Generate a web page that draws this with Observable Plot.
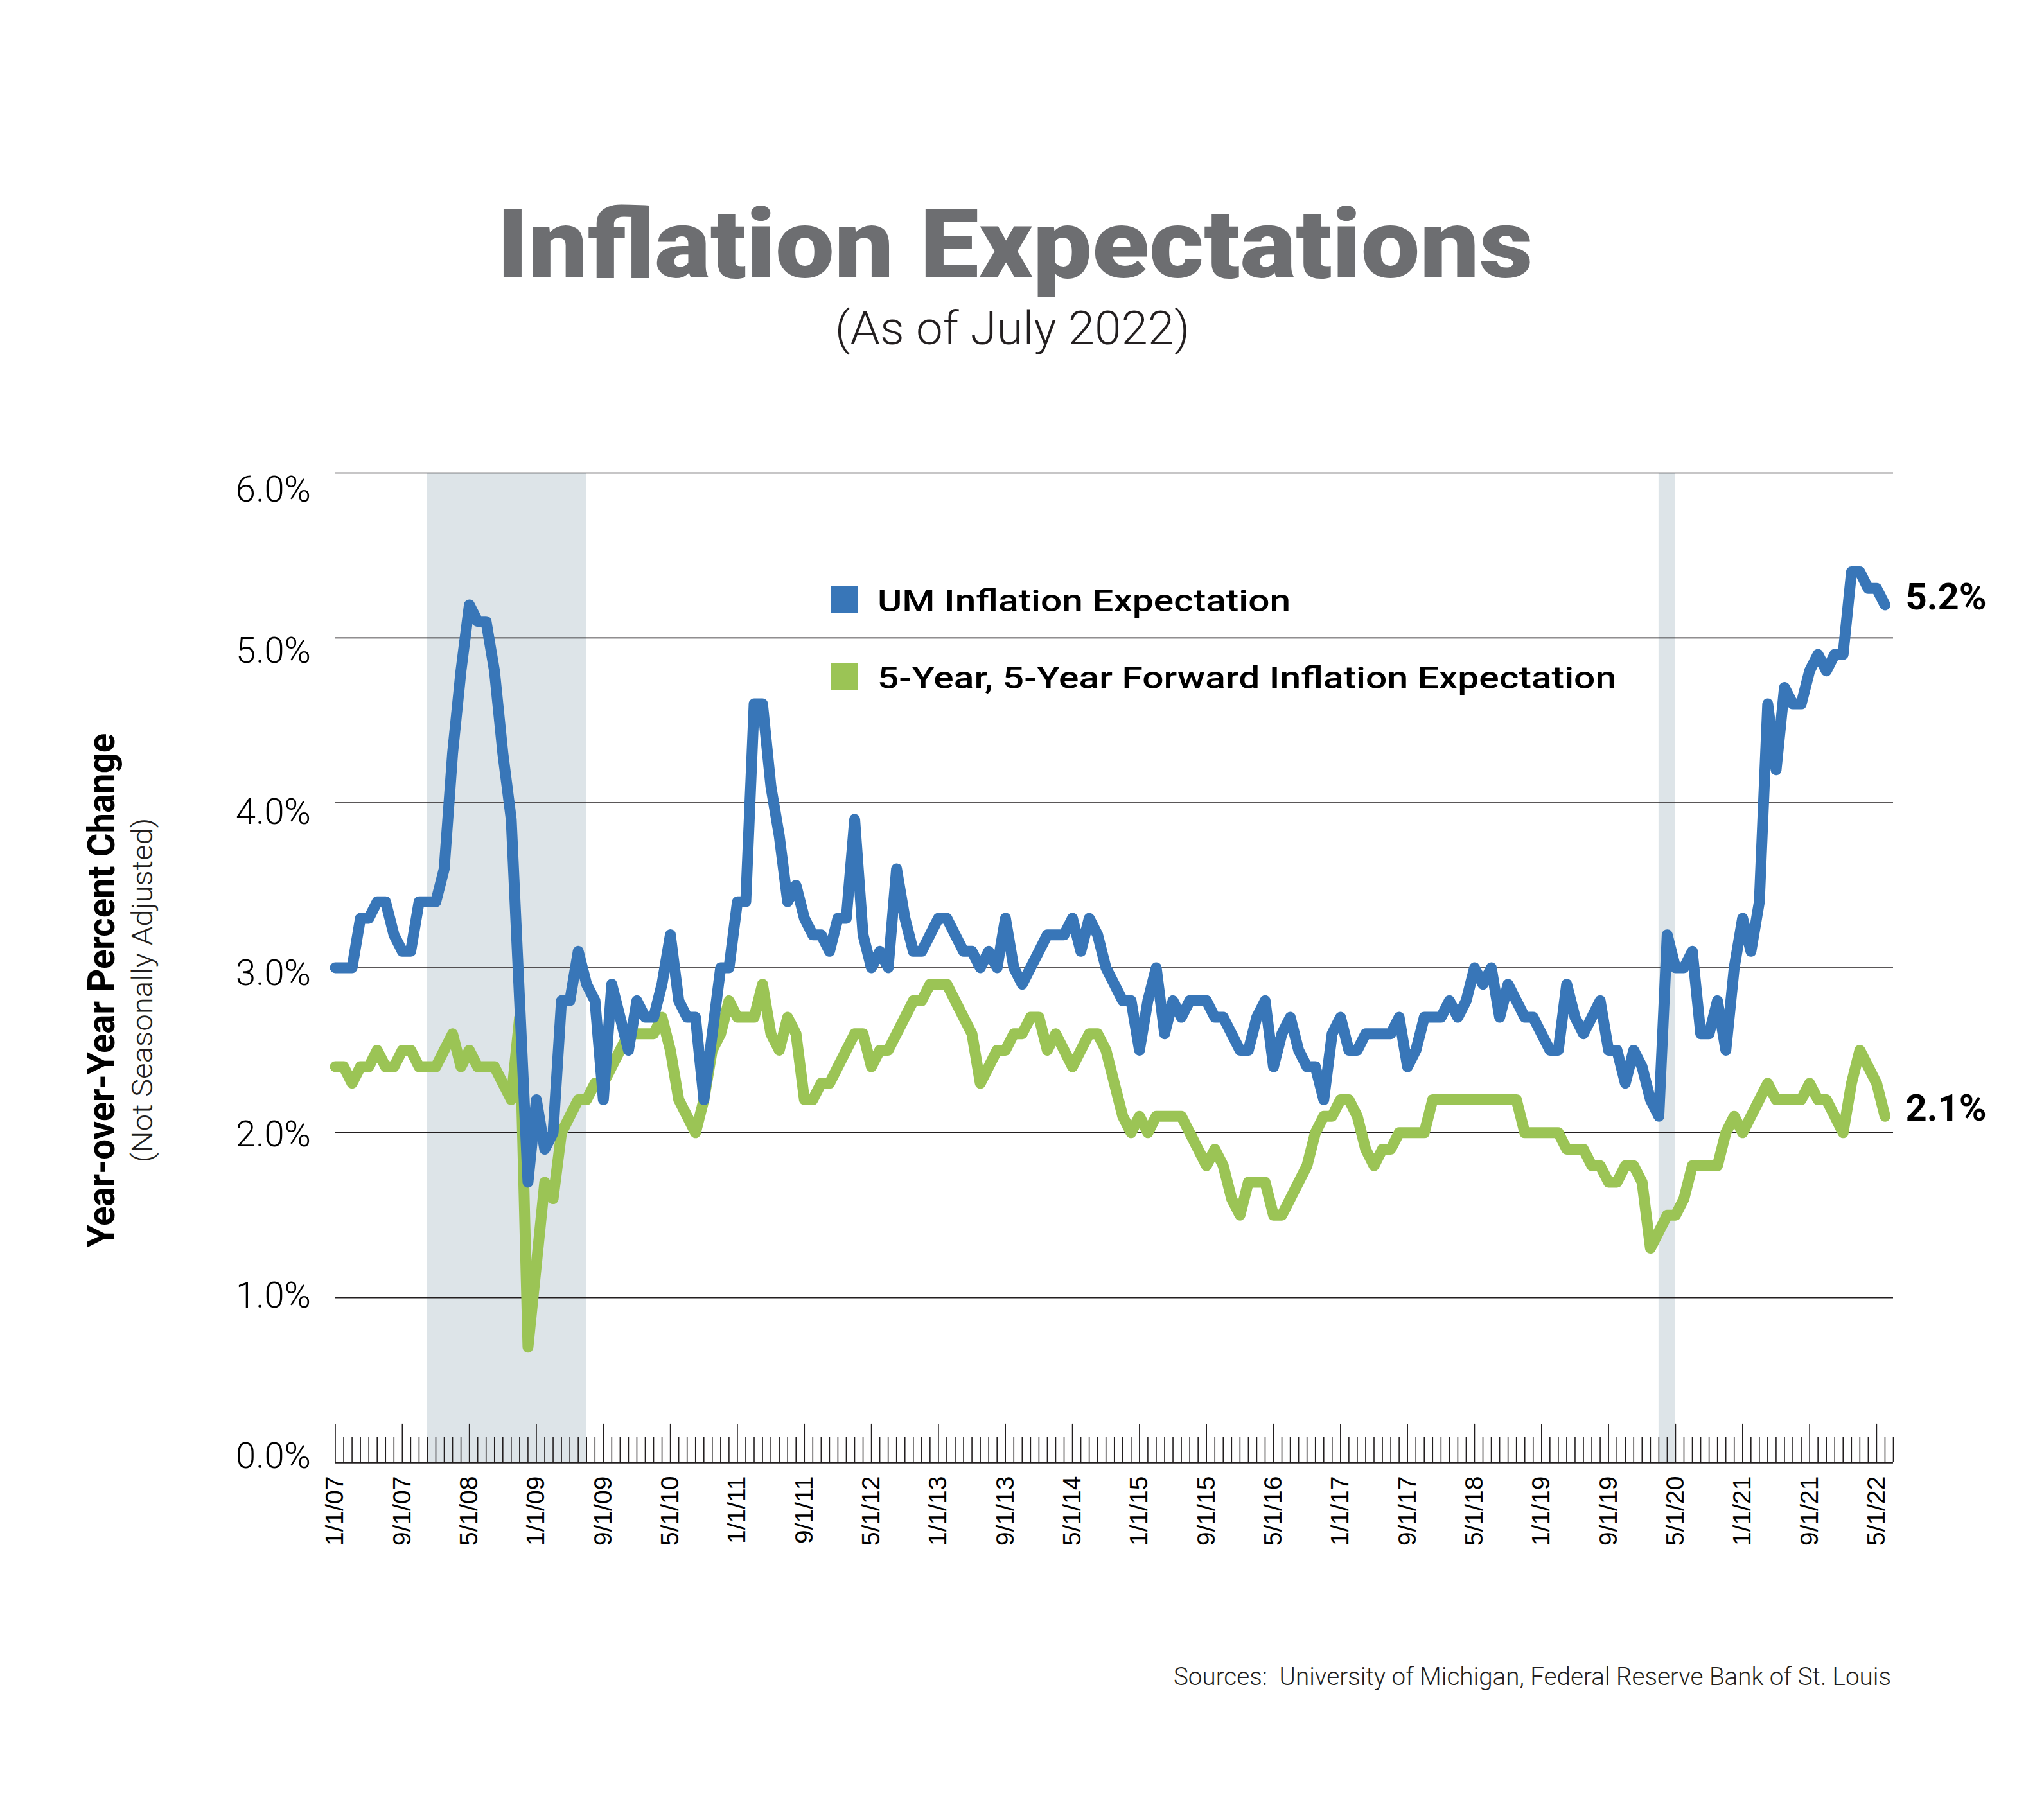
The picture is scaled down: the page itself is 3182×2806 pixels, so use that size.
<!DOCTYPE html>
<html><head><meta charset="utf-8">
<script src="https://cdn.jsdelivr.net/npm/d3@7"></script>
<script src="https://cdn.jsdelivr.net/npm/@observablehq/plot@0.6"></script>
<style>
html,body{margin:0;padding:0;background:#fff;}
#page{position:relative;width:3182px;height:2806px;overflow:hidden;font-family:Roboto,"Open Sans",sans-serif;background:#fff;}
#page svg{position:absolute;left:0;top:0;}
.t{position:absolute;white-space:nowrap;line-height:1;}
.sq{position:absolute;}
</style></head><body><div id="page"></div>
<script>
// ---- data ----
const startYear = 2007, startMonth = 1;   // first plotted month (index 0)
const axisMonths = 186;                   // axis extent in months

const umValues = [
 3.0,3.0,3.0,3.3,3.3,3.4,3.4,3.2,3.1,3.1,3.4,3.4,
 3.4,3.6,4.3,4.8,5.2,5.1,5.1,4.8,4.3,3.9,2.8,1.7,
 2.2,1.9,2.0,2.8,2.8,3.1,2.9,2.8,2.2,2.9,2.7,2.5,
 2.8,2.7,2.7,2.9,3.2,2.8,2.7,2.7,2.2,2.6,3.0,3.0,
 3.4,3.4,4.6,4.6,4.1,3.8,3.4,3.5,3.3,3.2,3.2,3.1,
 3.3,3.3,3.9,3.2,3.0,3.1,3.0,3.6,3.3,3.1,3.1,3.2,
 3.3,3.3,3.2,3.1,3.1,3.0,3.1,3.0,3.3,3.0,2.9,3.0,
 3.1,3.2,3.2,3.2,3.3,3.1,3.3,3.2,3.0,2.9,2.8,2.8,
 2.5,2.8,3.0,2.6,2.8,2.7,2.8,2.8,2.8,2.7,2.7,2.6,
 2.5,2.5,2.7,2.8,2.4,2.6,2.7,2.5,2.4,2.4,2.2,2.6,
 2.7,2.5,2.5,2.6,2.6,2.6,2.6,2.7,2.4,2.5,2.7,2.7,
 2.7,2.8,2.7,2.8,3.0,2.9,3.0,2.7,2.9,2.8,2.7,2.7,
 2.6,2.5,2.5,2.9,2.7,2.6,2.7,2.8,2.5,2.5,2.3,2.5,
 2.4,2.2,2.1,3.2,3.0,3.0,3.1,2.6,2.6,2.8,2.5,3.0,
 3.3,3.1,3.4,4.6,4.2,4.7,4.6,4.6,4.8,4.9,4.8,4.9,
 4.9,5.4,5.4,5.3,5.3,5.2
];

const fwdValues = [
 2.4,2.4,2.3,2.4,2.4,2.5,2.4,2.4,2.5,2.5,2.4,2.4,
 2.4,2.5,2.6,2.4,2.5,2.4,2.4,2.4,2.3,2.2,2.7,0.7,
 1.2,1.7,1.6,2.0,2.1,2.2,2.2,2.3,2.3,2.4,2.5,2.6,
 2.6,2.6,2.6,2.7,2.5,2.2,2.1,2.0,2.2,2.5,2.6,2.8,
 2.7,2.7,2.7,2.9,2.6,2.5,2.7,2.6,2.2,2.2,2.3,2.3,
 2.4,2.5,2.6,2.6,2.4,2.5,2.5,2.6,2.7,2.8,2.8,2.9,
 2.9,2.9,2.8,2.7,2.6,2.3,2.4,2.5,2.5,2.6,2.6,2.7,
 2.7,2.5,2.6,2.5,2.4,2.5,2.6,2.6,2.5,2.3,2.1,2.0,
 2.1,2.0,2.1,2.1,2.1,2.1,2.0,1.9,1.8,1.9,1.8,1.6,
 1.5,1.7,1.7,1.7,1.5,1.5,1.6,1.7,1.8,2.0,2.1,2.1,
 2.2,2.2,2.1,1.9,1.8,1.9,1.9,2.0,2.0,2.0,2.0,2.2,
 2.2,2.2,2.2,2.2,2.2,2.2,2.2,2.2,2.2,2.2,2.0,2.0,
 2.0,2.0,2.0,1.9,1.9,1.9,1.8,1.8,1.7,1.7,1.8,1.8,
 1.7,1.3,1.4,1.5,1.5,1.6,1.8,1.8,1.8,1.8,2.0,2.1,
 2.0,2.1,2.2,2.3,2.2,2.2,2.2,2.2,2.3,2.2,2.2,2.1,
 2.0,2.3,2.5,2.4,2.3,2.1
];

const tickLabels = ["1/1/07","9/1/07","5/1/08","1/1/09","9/1/09","5/1/10","1/1/11","9/1/11",
  "5/1/12","1/1/13","9/1/13","5/1/14","1/1/15","9/1/15","5/1/16","1/1/17","9/1/17","5/1/18",
  "1/1/19","9/1/19","5/1/20","1/1/21","9/1/21","5/1/22"];
const yTicks = [0,1,2,3,4,5,6];
const recessions = [{start:"2007-12", end:"2009-07"}, {start:"2020-03", end:"2020-05"}];
const seriesNames = ["UM Inflation Expectation", "5-Year, 5-Year Forward Inflation Expectation"];
const seriesColors = ["#3876b8", "#9bc455"];
const titleText = "Inflation Expectations";
const subtitleText = "(As of July 2022)";
const yTitle = "Year-over-Year Percent Change";
const ySubtitle = "(Not Seasonally Adjusted)";
const sourceText = "Sources:\u00a0 University of Michigan, Federal Reserve Bank of St. Louis";

// ---- helpers ----
function monthIndex(s){ const [y,m]=s.split("-").map(Number); return (y-startYear)*12+(m-startMonth); }
function labelIndex(l){ const [m,,yy]=l.split("/").map(Number); return (2000+yy-startYear)*12+(m-startMonth); }
const tickPos = tickLabels.map(labelIndex);
const labelByPos = new Map(tickPos.map((p,i)=>[p,tickLabels[i]]));
const majorSet = new Set(tickPos);

const umRows = umValues.map((v,i)=>({m:i, v}));
const fwdRows = fwdValues.map((v,i)=>({m:i, v}));
const endRows = [
  {m: umValues.length-1, v: umValues[umValues.length-1]},
  {m: fwdValues.length-1, v: fwdValues[fwdValues.length-1]}
];

const plot = Plot.plot({
  width: 3182, height: 2806,
  marginTop: 736, marginBottom: 529, marginLeft: 521.5, marginRight: 235,
  style: {fontFamily: "Roboto, 'Open Sans', sans-serif", color: "#000", background: "transparent", overflow: "visible"},
  x: {type: "linear", domain: [0, axisMonths], axis: null, label: null},
  y: {domain: [0, 6], axis: null, label: null},
  marks: [
    Plot.rect(recessions, {x1: d=>monthIndex(d.start), x2: d=>monthIndex(d.end), y1: 0, y2: 6, fill: "#dde4e8"}),
    Plot.ruleY(yTicks.filter(d=>d>0), {stroke: "#231f20", strokeWidth: 1.6}),
    Plot.ruleX(d3.range(0, axisMonths+1), {x: d=>d, y1: 0, y2: d => majorSet.has(d) ? 0.234 : 0.152, stroke: "#231f20", strokeWidth: 1.6}),
    Plot.ruleY([0], {stroke: "#231f20", strokeWidth: 2.6}),
    ...yTicks.map(t => Plot.axisY([t], {tickFormat: d=>d.toFixed(1)+"%", tickSize: 0, tickPadding: 38, fontSize: 56, fontWeight: 300, dy: -9 + 6*t, label: null})),
    Plot.axisX({ticks: tickPos, tickFormat: d=>labelByPos.get(d), tickRotate: -90, tickSize: 0, tickPadding: 21, fontSize: 39, fontFamily: "'Liberation Sans', Arial, sans-serif", label: null}),
    Plot.line(fwdRows, {x: "m", y: "v", stroke: seriesColors[1], strokeWidth: 17, strokeLinejoin: "round", strokeLinecap: "round"}),
    Plot.line(umRows, {x: "m", y: "v", stroke: seriesColors[0], strokeWidth: 17, strokeLinejoin: "round", strokeLinecap: "round"}),
    Plot.text(endRows, {x: "m", y: "v", text: d=>d.v.toFixed(1)+"%", dx: 32, dy: -12, textAnchor: "start", fontSize: 58, fontWeight: 700, fill: "#000"})
  ]
});
const page = document.getElementById("page");
page.appendChild(plot);

function place(text, o){
  const el = document.createElement("div");
  el.className = "t";
  el.textContent = text;
  el.style.fontSize = o.size + "px";
  el.style.fontWeight = o.weight;
  el.style.color = o.color || "#231f20";
  el.style.left = o.x + "px";
  el.style.top = o.y + "px";
  page.appendChild(el);
  const w = el.offsetWidth;
  const s = o.width ? o.width / w : 1;
  if (o.rotate) {
    el.style.transformOrigin = "50% 50%";
    el.style.transform = `translate(-50%,-50%) rotate(-90deg) scaleX(${s})`;
  } else if (o.anchor === "start") {
    el.style.transformOrigin = "0 50%";
    el.style.transform = `translate(0,-50%) scaleX(${s})`;
  } else if (o.anchor === "end") {
    el.style.transformOrigin = "100% 50%";
    el.style.transform = `translate(-100%,-50%) scaleX(${s})`;
  } else {
    el.style.transformOrigin = "50% 50%";
    el.style.transform = `translate(-50%,-50%) scaleX(${s})`;
  }
  return el;
}
function square(x, y, w, h, c){
  const d = document.createElement("div");
  d.className = "sq";
  Object.assign(d.style, {left: x+"px", top: y+"px", width: w+"px", height: h+"px", background: c});
  page.appendChild(d);
}

place(titleText, {x: 1580, y: 381, size: 150, weight: 900, color: "#6d6e71", width: 1613});
place(subtitleText, {x: 1576, y: 511, size: 73, weight: 300, width: 553});
place(yTitle, {x: 158, y: 1542, size: 60, weight: 700, width: 800, rotate: true, color: "#000"});
place(ySubtitle, {x: 222, y: 1542, size: 44, weight: 300, width: 537, rotate: true});
square(1293, 913, 42, 42, seriesColors[0]);
square(1293, 1032, 42, 42, seriesColors[1]);
place(seriesNames[0], {x: 1366, y: 935, size: 49, weight: 500, width: 643, anchor: "start", color: "#000"});
place(seriesNames[1], {x: 1366, y: 1055, size: 49, weight: 500, width: 1150, anchor: "start", color: "#000"});
place(sourceText, {x: 2944, y: 2611, size: 38, weight: 300, width: 1117, anchor: "end"});
</script>
</body></html>
